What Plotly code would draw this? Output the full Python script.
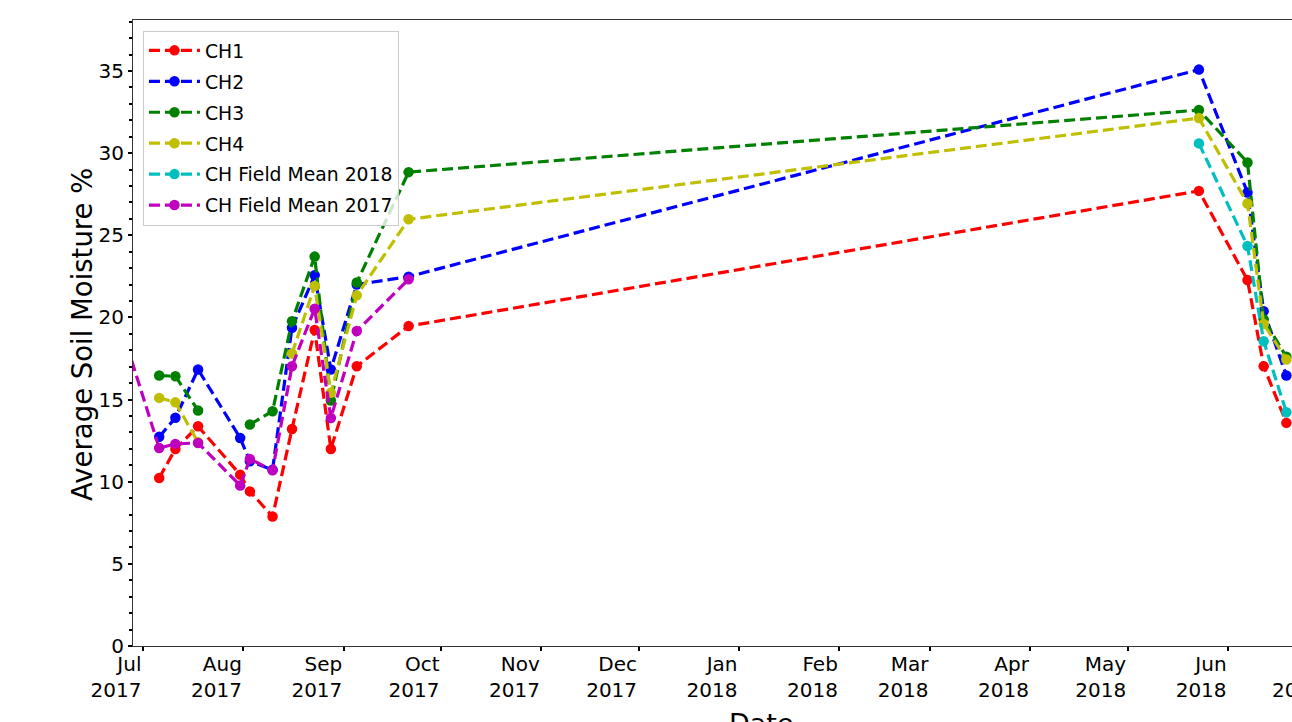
import plotly.graph_objects as go
import pandas as pd

# ---- data ----
dates_2017 = ["2017-07-06", "2017-07-11", "2017-07-18", "2017-07-31", "2017-08-03",
              "2017-08-10", "2017-08-16", "2017-08-23", "2017-08-28", "2017-09-05",
              "2017-09-21"]
dates_2018 = ["2018-05-23", "2018-06-07", "2018-06-12", "2018-06-19"]
dates_all = dates_2017 + dates_2018

ch1 = [10.23, 11.99, 13.37, 10.43, 9.41, 7.88, 13.21, 19.23, 11.99, 17.03, 19.47,
       27.70, 22.27, 17.03, 13.58]
ch2 = [12.73, 13.89, 16.83, 12.66, 11.24, 10.73, 19.37, 22.56, 16.83, 22.0, 22.48,
       35.08, 27.60, 20.38, 16.46]
ch3 = [16.46, 16.42, 14.33, None, 13.48, 14.29, 19.77, 23.70, 14.94, 22.12, 28.84,
       32.62, 29.43, 19.88, 17.60]
ch4 = [15.10, 14.83, 12.40, None, None, None, 17.80, 21.91, 15.41, 21.34, 25.97,
       32.13, 26.93, 19.60, 17.44]
mean_2018 = [30.59, 24.35, 18.55, 14.23]
dates_mean_2017 = ["2017-06-26"] + dates_2017
mean_2017 = [18.3, 12.05, 12.30, 12.36, 9.77, 11.38, 10.69, 17.03, 20.53, 13.88, 19.17, 22.32]

month_ticks = ["2017-07-01", "2017-08-01", "2017-09-01", "2017-10-01", "2017-11-01",
               "2017-12-01", "2018-01-01", "2018-02-01", "2018-03-01", "2018-04-01",
               "2018-05-01", "2018-06-01"]
month_labels = ["Jul<br>2017", "Aug<br>2017", "Sep<br>2017", "Oct<br>2017", "Nov<br>2017",
                "Dec<br>2017", "Jan<br>2018", "Feb<br>2018", "Mar<br>2018", "Apr<br>2018",
                "May<br>2018", "Jun<br>2018"]
extra_tick = "2018-07-01"
extra_label = "Jul<br>2018"

x_range = ["2017-06-27 21:55", "2018-06-20 17:45"]
y_range = [0, 38.1]

FONT = "DejaVu Sans"
series = [
    ("CH1", dates_all, ch1, "#ff0000"),
    ("CH2", dates_all, ch2, "#0000ff"),
    ("CH3", dates_all, ch3, "#008000"),
    ("CH4", dates_all, ch4, "#bfbf00"),
    ("CH Field Mean 2018", dates_2018, mean_2018, "#00bfbf"),
    ("CH Field Mean 2017", dates_mean_2017, mean_2017, "#bf00bf"),
]

fig = go.Figure()
for i, (name, xs, ys, col) in enumerate(series):
    fig.add_trace(go.Scatter(
        x=xs, y=ys, name=name, mode="lines+markers",
        line=dict(color=col, width=3.2, dash="11px,5px"),
        marker=dict(color=col, size=10.5),
        connectgaps=False, legendgroup=f"g{i}",
    ))

x0 = pd.Timestamp(x_range[0]); x1 = pd.Timestamp(x_range[1])
extra_px = (pd.Timestamp(extra_tick) - x0) / (x1 - x0)

fig.update_layout(
    width=1292, height=722,
    margin=dict(l=133, r=0, t=20, b=76),
    plot_bgcolor="white", paper_bgcolor="white",
    font=dict(family=FONT, color="black", size=20),
    showlegend=True,
    legend=dict(x=0.0086, y=0.983, xanchor="left", yanchor="top",
                bgcolor="rgba(255,255,255,0.8)", bordercolor="#cccccc", borderwidth=1,
                font=dict(family=FONT, size=18.8), tracegroupgap=3.5,
                itemwidth=51, traceorder="grouped"),
    xaxis=dict(type="date", range=x_range, showgrid=False, zeroline=False,
               showline=True, linecolor="#333333", linewidth=1, mirror=True,
               tickvals=month_ticks, ticktext=month_labels,
               ticks="outside", ticklen=4, tickwidth=2, tickcolor="black",
               ticklabelposition="outside left",
               tickfont=dict(family=FONT, size=20)),
    yaxis=dict(range=y_range, showgrid=False, zeroline=False,
               showline=True, linecolor="#333333", linewidth=1, mirror=False,
               tick0=0, dtick=5, ticks="outside", ticklen=4, tickwidth=2, tickcolor="black",
               minor=dict(dtick=1, ticks="outside", ticklen=3, tickwidth=2, tickcolor="black"),
               tickfont=dict(family=FONT, size=20)),
    annotations=[
        dict(text="Average Soil Moisture %", xref="paper", yref="paper",
             x=-0.044, y=0.497, xanchor="center", yanchor="middle", textangle=-90,
             showarrow=False, font=dict(family=FONT, size=27.5)),
        dict(text="Date", xref="paper", yref="paper", x=0.5427, y=-0.1246,
             xanchor="center", yanchor="middle", showarrow=False,
             font=dict(family=FONT, size=27)),
        dict(text=extra_label, xref="paper", yref="paper", x=extra_px, y=-0.0064,
             xanchor="right", yanchor="top", align="right", showarrow=False,
             font=dict(family=FONT, size=20)),
    ],
)

# remove the default page margin / scrollbars so the figure fills the window exactly
fig.write_html("out.html",
               config={"displayModeBar": False},
               post_script="document.body.style.margin='0px';"
                           "document.documentElement.style.overflow='hidden';"
                           "document.body.style.overflow='hidden';")
